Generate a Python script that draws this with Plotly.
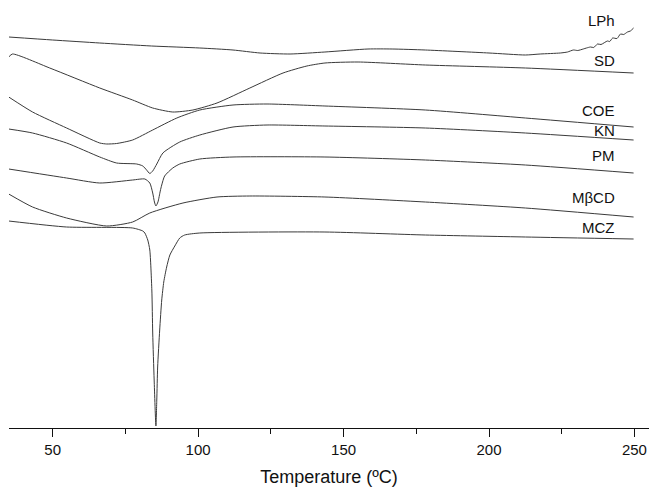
import plotly.graph_objects as go

# Temperature (°C) and DSC signal (arbitrary units, endo down)
lph_t = [34.9, 50.0, 66.2, 84.0, 100.6, 112.0, 121.3, 131.6, 143.6, 158.4, 166.7, 178.1, 200.0, 212.5,
         217.6, 224.5, 227.0, 229.0, 230.5, 232.4, 233.5, 234.9, 236.0, 237.3, 238.5, 240.7, 241.5,
         242.5, 244.0, 245.2, 246.3, 247.6, 248.6, 249.7]
lph_y = [391, 388, 385, 382, 380, 378, 375, 374, 376, 379, 379, 378, 375, 373,
         374, 375, 376, 378, 377.5, 379, 380, 381, 380.5, 384, 383.5, 387, 386.5,
         390, 389.5, 394, 393.5, 396, 397, 400]

sd_t = [34.9, 36.2, 49.0, 66.2, 77.5, 84.4, 91.3, 98.2, 106.5, 117.8, 129.2, 137.4, 143.6, 155.0, 178.1, 212.5, 249.7]
sd_y = [371, 374, 360, 340, 328, 320, 316, 318, 325, 340, 355, 362, 365, 366, 363, 360, 355]

coe_t = [34.9, 43.1, 54.8, 66.2, 68.6, 72.0, 77.5, 84.4, 92.7, 100.6, 112.0, 123.7, 143.6, 178.1, 212.5, 249.7]
coe_y = [331, 316, 300, 285, 284, 284.5, 288, 298, 310, 318, 323, 324, 322, 318, 310, 301]

kn_t = [34.9, 43.1, 54.8, 66.2, 72.0, 78.9, 81.0, 82.3, 83.4, 84.4, 85.8, 87.9, 93.7, 100.6, 112.0, 123.7, 143.6, 178.1, 212.5, 249.7]
kn_y = [299, 295, 285, 271, 265, 264, 262, 258, 254.5, 257, 264, 275, 286, 293, 301, 303, 302, 300, 295, 288]

pm_t = [34.9, 54.8, 66.2, 77.5, 81.7, 83.4, 84.4, 85.0, 85.5, 86.2, 87.0, 87.5, 88.5, 91.3, 93.7, 100.6, 112.0, 143.6, 178.1, 212.5, 249.7]
pm_y = [259, 250, 245, 248, 249, 245, 235, 226, 222, 226, 237, 243, 252, 260, 264, 269, 271, 271, 268, 263, 255]

mbcd_t = [34.9, 43.1, 54.8, 68.6, 77.5, 83.4, 94.8, 106.5, 117.8, 143.6, 178.1, 212.5, 249.7]
mbcd_y = [234, 221, 210, 202, 206, 215, 225, 231, 232, 231, 226, 220, 211]

mcz_t = [34.9, 54.8, 77.5, 81.0, 81.7, 82.7, 83.4, 84.1, 84.4, 84.9, 85.5, 85.8, 86.1, 86.8, 87.5,
         88.2, 89.2, 90.3, 92.0, 93.7, 95.4, 100.6, 143.6, 178.1, 212.5, 249.7]
mcz_y = [207, 201, 200, 197, 195, 188, 178, 138, 95, 48, 2, 28, 61, 98, 128,
         146, 161, 173, 182, 190, 193, 195, 196, 193, 191, 189]

series = [("LPh", lph_t, lph_y), ("SD", sd_t, sd_y), ("COE", coe_t, coe_y), ("KN", kn_t, kn_y),
          ("PM", pm_t, pm_y), ("MβCD", mbcd_t, mbcd_y), ("MCZ", mcz_t, mcz_y)]

label_names = ["LPh", "SD", "COE", "KN", "PM", "MβCD", "MCZ"]
label_y = [408, 368, 318, 298, 273, 231, 201]
label_x = 244.0

tick_vals = [50, 100, 150, 200, 250]

FONT = "Liberation Sans, Arial, sans-serif"

fig = go.Figure()
for name, t, y in series:
    fig.add_trace(go.Scatter(x=t, y=y, mode="lines", name=name,
                             line=dict(color="#3a3a3a", width=1, shape="spline", smoothing=0.6),
                             showlegend=False, hoverinfo="skip"))

for name, y in zip(label_names, label_y):
    fig.add_annotation(x=label_x, y=y, text=name, showarrow=False, xanchor="right",
                       yanchor="middle", font=dict(family=FONT, size=15, color="#111111"))

fig.update_layout(
    width=650, height=487,
    margin=dict(l=9, r=1, t=0, b=59),
    paper_bgcolor="white", plot_bgcolor="white",
    font=dict(family=FONT, size=15, color="#111111"),
    xaxis=dict(range=[35, 255], tickvals=tick_vals, ticks="outside", ticklen=8, tickwidth=1,
               tickcolor="#111111", showline=True, linecolor="#111111", linewidth=1.3,
               showgrid=False, zeroline=False,
               minor=dict(ticks="outside", ticklen=5, tickwidth=1, tickcolor="#111111",
                          tickvals=[75, 125, 175, 225], showgrid=False),
               title=dict(text="Temperature (ºC)", font=dict(family=FONT, size=18, color="#111111"),
                          standoff=14),
               tickfont=dict(family=FONT, size=15, color="#111111")),
    yaxis=dict(range=[0, 428], visible=False, showgrid=False, zeroline=False),
)

fig.write_html("out.html", config={"displayModeBar": False},
               post_script="document.body.style.margin='0';document.body.style.overflow='hidden';")
